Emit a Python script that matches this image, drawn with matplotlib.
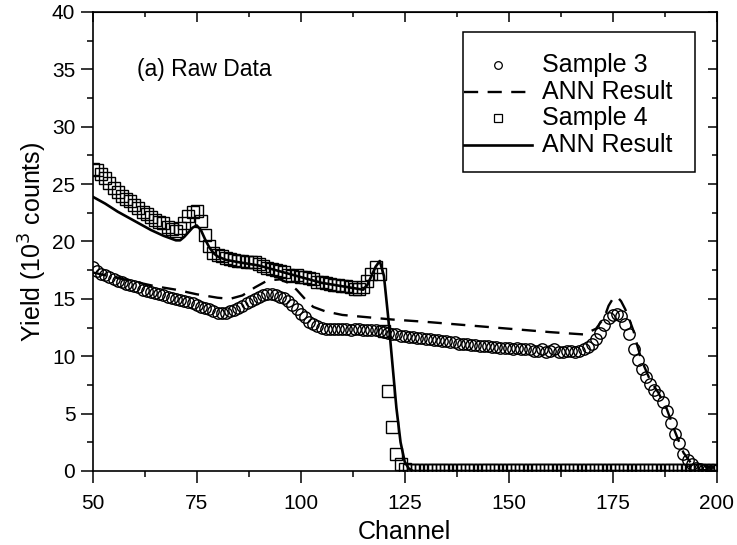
import numpy as np
import matplotlib.pyplot as plt
from matplotlib.patches import Rectangle

plt.rcParams['font.family'] = ['Liberation Sans', 'DejaVu Sans']

# channels 50..200, one point per channel
channel = list(range(50, 201))

sample3 = [17.8, 17.4, 17.2, 17.1, 16.9, 16.7, 16.6, 16.5, 16.3, 16.2,
           16.1, 16.0, 15.8, 15.7, 15.6, 15.5, 15.4, 15.3, 15.2, 15.1,
           15.0, 14.9, 14.8, 14.7, 14.6, 14.5, 14.3, 14.2, 14.1, 13.9,
           13.8, 13.8, 13.8, 13.9, 14.0, 14.2, 14.4, 14.6, 14.8, 15.0,
           15.2, 15.3, 15.4, 15.4, 15.3, 15.2, 15.1, 14.8, 14.5, 14.1,
           13.7, 13.4, 13.0, 12.8, 12.6, 12.5, 12.4, 12.4, 12.4, 12.4,
           12.4, 12.4, 12.3, 12.4, 12.4, 12.3, 12.3, 12.3, 12.3, 12.2,
           12.1, 12.0, 11.9, 11.9, 11.8, 11.8, 11.7, 11.7, 11.6, 11.6,
           11.5, 11.5, 11.4, 11.4, 11.3, 11.3, 11.2, 11.2, 11.1, 11.1,
           11.1, 11.0, 11.0, 10.9, 10.9, 10.9, 10.8, 10.8, 10.7, 10.7,
           10.7, 10.6, 10.7, 10.6, 10.6, 10.6, 10.5, 10.5, 10.6, 10.4,
           10.5, 10.6, 10.4, 10.4, 10.5, 10.5, 10.4, 10.5, 10.6, 10.8,
           11.1, 11.5, 12.0, 12.7, 13.3, 13.6, 13.7, 13.5, 12.8, 11.9,
           10.6, 9.7, 8.9, 8.2, 7.6, 7.1, 6.6, 6.0, 5.2, 4.2,
           3.2, 2.4, 1.5, 1.0, 0.6, 0.3, 0.2, 0.1, 0.1, 0.1,
           0.1]

sample4 = [26.3, 26.2, 25.9, 25.5, 25.1, 24.7, 24.3, 24.0, 23.7, 23.5,
           23.2, 22.9, 22.6, 22.4, 22.1, 21.9, 21.7, 21.6, 21.3, 21.1,
           20.9, 21.2, 21.6, 22.2, 22.6, 22.7, 21.8, 20.6, 19.6, 19.0,
           18.8, 18.7, 18.6, 18.5, 18.4, 18.3, 18.3, 18.2, 18.2, 18.2,
           18.0, 17.9, 17.7, 17.6, 17.5, 17.4, 17.3, 17.1, 17.0, 17.1,
           16.9, 16.9, 16.8, 16.7, 16.5, 16.5, 16.4, 16.3, 16.2, 16.2,
           16.1, 16.1, 16.0, 15.9, 15.9, 16.0, 16.6, 17.2, 17.8, 17.2,
           12.2, 7.0, 3.8, 1.5, 0.6, 0.2, 0.1, 0.1, 0.1, 0.1,
           0.1, 0.1, 0.1, 0.1, 0.1, 0.1, 0.1, 0.1, 0.1, 0.1,
           0.1, 0.1, 0.1, 0.1, 0.1, 0.1, 0.1, 0.1, 0.1, 0.1,
           0.1, 0.1, 0.1, 0.1, 0.1, 0.1, 0.1, 0.1, 0.1, 0.1,
           0.1, 0.1, 0.1, 0.1, 0.1, 0.1, 0.1, 0.1, 0.1, 0.1,
           0.1, 0.1, 0.1, 0.1, 0.1, 0.1, 0.1, 0.1, 0.1, 0.1,
           0.1, 0.1, 0.1, 0.1, 0.1, 0.1, 0.1, 0.1, 0.1, 0.1,
           0.1, 0.1, 0.1, 0.1, 0.1, 0.1, 0.1, 0.1, 0.1, 0.1,
           0.1]

# ANN curves (read at knots along the lines)
ann3_ch = [50, 55, 60, 65, 70, 75, 80, 83, 86, 89, 92, 95, 97, 99, 101,
           103, 106, 110, 116, 122, 130, 140, 150, 160, 168, 171, 173, 174,
           175, 176, 177, 178, 179, 180, 181, 182, 184, 186, 188, 190, 192,
           194, 196, 200]
ann3 = [17.3, 16.9, 16.5, 16.1, 15.8, 15.4, 15.1, 15.0, 15.3, 16.0, 16.6,
        16.7, 16.4, 15.8, 15.0, 14.3, 13.9, 13.6, 13.4, 13.2, 13.0, 12.7,
        12.4, 12.1, 11.9, 12.4, 13.4, 14.4, 15.0, 15.2, 14.8, 14.1, 13.2,
        12.2, 10.8, 9.6, 7.9, 6.8, 5.4, 3.4, 1.6, 0.6, 0.1, 0.0]

ann4_ch = [50, 53, 56, 60, 64, 67, 70, 71, 72, 73, 74, 75, 76, 77, 78, 79,
           80, 82, 85, 90, 95, 100, 105, 110, 115, 116, 117, 118, 119, 120,
           121, 122, 123, 124, 125, 126, 127, 200]
ann4 = [23.9, 23.3, 22.6, 21.8, 21.0, 20.5, 20.1, 20.1, 20.4, 20.8, 21.2,
        21.4, 21.0, 20.2, 19.5, 19.0, 18.7, 18.4, 18.2, 17.9, 17.4, 16.9,
        16.4, 16.1, 15.8, 16.2, 17.0, 17.8, 18.3, 17.0, 13.5, 9.5, 5.5,
        2.5, 0.8, 0.2, 0.0, 0.0]

legend_labels = ['Sample 3', 'ANN Result', 'Sample 4', 'ANN Result']

fig = plt.figure(figsize=(7.37, 5.45), dpi=100)
ax = fig.add_axes([0.1258, 0.1358, 0.8467, 0.8422])

dash = (0, (6, 4))
ax.plot(channel, sample3, 'o', ms=8.2, mfc='none', mec='black', mew=1.0, zorder=2)
ax.plot(channel, sample4, 's', ms=8.2, mfc='none', mec='black', mew=1.0, zorder=2)
ax.plot(ann3_ch, ann3, color='black', lw=1.7, linestyle=dash, zorder=3)
ax.plot(ann4_ch, ann4, color='black', lw=1.9, zorder=3)

ax.set_xlim(50, 200)
ax.set_ylim(0, 40)
ax.set_xticks(np.arange(50, 201, 25))
ax.set_xticks(np.arange(50, 201, 12.5), minor=True)
ax.set_yticks(np.arange(0, 41, 5))
ax.set_yticks(np.arange(0, 41, 2.5), minor=True)
ax.tick_params(which='major', direction='out', length=8.5, width=1.1,
               labelsize=15, pad=4)
ax.tick_params(axis='x', which='major', pad=8)
ax.tick_params(which='minor', direction='out', length=4.5, width=1.1)
for s in ax.spines.values():
    s.set_linewidth(1.2)

top = ax.secondary_xaxis('top')
top.set_xticks(np.arange(50, 201, 25))
top.set_xticks(np.arange(50, 201, 12.5), minor=True)
top.tick_params(which='major', direction='in', length=7, width=1.1, labeltop=False)
top.tick_params(which='minor', direction='in', length=3.5, width=1.1)
right = ax.secondary_yaxis('right')
right.set_yticks(np.arange(0, 41, 5))
right.set_yticks(np.arange(0, 41, 2.5), minor=True)
right.tick_params(which='major', direction='in', length=6.5, width=1.1, labelright=False)
right.tick_params(which='minor', direction='in', length=3.5, width=1.1)

ax.set_xlabel('Channel', fontsize=18, labelpad=5)
ax.set_ylabel('Yield (10$^3$ counts)', fontsize=18, labelpad=2)

ax.text(60.6, 35.0, '(a) Raw Data', fontsize=16.5, va='center', ha='left')

# legend box drawn by hand
T = ax.transAxes
ax.add_patch(Rectangle((0.593, 0.652), 0.372, 0.305, transform=T,
                       fill=False, ec='black', lw=1.1, zorder=5))
rows = [0.885, 0.826, 0.768, 0.710]
ax.plot([0.650], [rows[0]], 'o', ms=5.5, mfc='none', mec='black', mew=0.9,
        transform=T, clip_on=False, zorder=6)
ax.plot([0.595, 0.7035], [rows[1], rows[1]], color='black', lw=1.7,
        linestyle=dash, transform=T, clip_on=False, zorder=6)
ax.plot([0.650], [rows[2]], 's', ms=5.5, mfc='none', mec='black', mew=0.9,
        transform=T, clip_on=False, zorder=6)
ax.plot([0.595, 0.7035], [rows[3], rows[3]], color='black', lw=1.9,
        transform=T, clip_on=False, zorder=6)
for r, lab in zip(rows, legend_labels):
    ax.text(0.7196, r, lab, transform=T, fontsize=18, va='center', ha='left', zorder=6)

plt.savefig('out.png', dpi=100)
